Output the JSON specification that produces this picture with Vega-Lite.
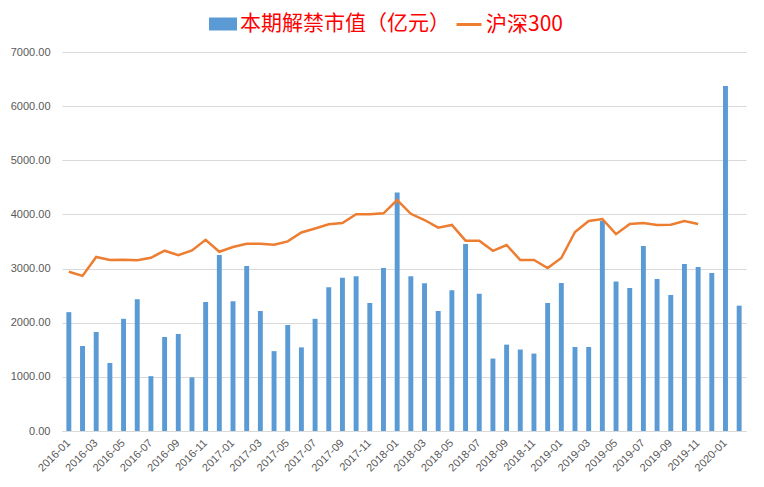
{
  "$schema": "https://vega.github.io/schema/vega-lite/v6.json",
  "autosize": "none",
  "width": 684,
  "height": 379,
  "padding": {"left": 62, "top": 52, "right": 18, "bottom": 56},
  "background": "white",
  "config": {
    "view": {"stroke": null},
    "axis": {"labelFont": "Liberation Sans", "labelFontSize": 11, "labelColor": "#595959", "ticks": false, "title": null}
  },
  "data": {
    "values": [
      {"month": "2016-01", "unlock": 2195, "hs300": 2940},
      {"month": "2016-02", "unlock": 1570, "hs300": 2865},
      {"month": "2016-03", "unlock": 1829, "hs300": 3214},
      {"month": "2016-04", "unlock": 1256, "hs300": 3158},
      {"month": "2016-05", "unlock": 2072, "hs300": 3162},
      {"month": "2016-06", "unlock": 2435, "hs300": 3155},
      {"month": "2016-07", "unlock": 1013, "hs300": 3200},
      {"month": "2016-08", "unlock": 1736, "hs300": 3330},
      {"month": "2016-09", "unlock": 1792, "hs300": 3248},
      {"month": "2016-10", "unlock": 990, "hs300": 3335},
      {"month": "2016-11", "unlock": 2383, "hs300": 3532},
      {"month": "2016-12", "unlock": 3251, "hs300": 3310},
      {"month": "2017-01", "unlock": 2398, "hs300": 3399},
      {"month": "2017-02", "unlock": 3048, "hs300": 3458},
      {"month": "2017-03", "unlock": 2216, "hs300": 3458},
      {"month": "2017-04", "unlock": 1475, "hs300": 3440},
      {"month": "2017-05", "unlock": 1958, "hs300": 3503},
      {"month": "2017-06", "unlock": 1545, "hs300": 3666},
      {"month": "2017-07", "unlock": 2072, "hs300": 3740},
      {"month": "2017-08", "unlock": 2657, "hs300": 3817},
      {"month": "2017-09", "unlock": 2830, "hs300": 3840},
      {"month": "2017-10", "unlock": 2860, "hs300": 4005},
      {"month": "2017-11", "unlock": 2364, "hs300": 4005},
      {"month": "2017-12", "unlock": 3011, "hs300": 4020},
      {"month": "2018-01", "unlock": 4405, "hs300": 4266},
      {"month": "2018-02", "unlock": 2860, "hs300": 4012},
      {"month": "2018-03", "unlock": 2730, "hs300": 3897},
      {"month": "2018-04", "unlock": 2216, "hs300": 3755},
      {"month": "2018-05", "unlock": 2600, "hs300": 3805},
      {"month": "2018-06", "unlock": 3454, "hs300": 3515},
      {"month": "2018-07", "unlock": 2533, "hs300": 3515},
      {"month": "2018-08", "unlock": 1338, "hs300": 3328},
      {"month": "2018-09", "unlock": 1595, "hs300": 3435},
      {"month": "2018-10", "unlock": 1505, "hs300": 3158},
      {"month": "2018-11", "unlock": 1430, "hs300": 3158},
      {"month": "2018-12", "unlock": 2364, "hs300": 3010},
      {"month": "2019-01", "unlock": 2734, "hs300": 3195},
      {"month": "2019-02", "unlock": 1551, "hs300": 3675},
      {"month": "2019-03", "unlock": 1551, "hs300": 3878},
      {"month": "2019-04", "unlock": 3885, "hs300": 3916},
      {"month": "2019-05", "unlock": 2760, "hs300": 3635},
      {"month": "2019-06", "unlock": 2641, "hs300": 3823},
      {"month": "2019-07", "unlock": 3417, "hs300": 3842},
      {"month": "2019-08", "unlock": 2808, "hs300": 3805},
      {"month": "2019-09", "unlock": 2512, "hs300": 3810},
      {"month": "2019-10", "unlock": 3085, "hs300": 3879},
      {"month": "2019-11", "unlock": 3029, "hs300": 3823},
      {"month": "2019-12", "unlock": 2918, "hs300": null},
      {"month": "2020-01", "unlock": 6372, "hs300": null},
      {"month": "2020-02", "unlock": 2315, "hs300": null}
    ]
  },
  "encoding": {
    "x": {
      "field": "month", "type": "ordinal", "sort": null,
      "scale": {"paddingInner": 0.64, "paddingOuter": 0.32},
      "axis": {
        "labelAngle": -45, "labelAlign": "right", "labelBaseline": "middle", "labelPadding": 10,
        "labelOverlap": false, "domainColor": "#D9D9D9", "grid": false,
        "values": ["2016-01","2016-03","2016-05","2016-07","2016-09","2016-11","2017-01","2017-03","2017-05","2017-07","2017-09","2017-11","2018-01","2018-03","2018-05","2018-07","2018-09","2018-11","2019-01","2019-03","2019-05","2019-07","2019-09","2019-11","2020-01"]
      }
    }
  },
  "layer": [
    {
      "mark": {"type": "bar"},
      "encoding": {
        "y": {
          "field": "unlock", "type": "quantitative",
          "scale": {"domain": [0, 7000], "nice": false},
          "axis": {"values": [0,1000,2000,3000,4000,5000,6000,7000], "format": ".2f", "domain": false, "gridColor": "#D9D9D9", "labelPadding": 12}
        },
        "color": {
          "datum": "本期解禁市值（亿元）",
          "type": "nominal",
          "scale": {"domain": ["本期解禁市值（亿元）", "沪深300"], "range": ["#5B9BD5", "#ED7D31"]},
          "legend": {
            "title": null, "orient": "none", "direction": "horizontal",
            "legendX": 147, "legendY": -42,
            "labelFont": "Noto Sans CJK SC", "labelFontSize": 21, "labelColor": "#FF0000", "labelLimit": 400,
            "labelOffset": 3, "columnPadding": 0, "symbolSize": 625,
            "encode": {
              "symbols": {
                "update": {
                  "shape": {"signal": "datum.value === '沪深300' ? 'stroke' : 'M-1,-0.4H1V0.4H-1Z'"},
                  "fill": {"signal": "datum.value === '沪深300' ? 'transparent' : '#5B9BD5'"},
                  "stroke": {"signal": "datum.value === '沪深300' ? '#ED7D31' : 'transparent'"},
                  "strokeWidth": {"value": 3},
                  "opacity": {"value": 1}
                }
              }
            }
          }
        }
      }
    },
    {
      "transform": [{"filter": "datum.hs300 != null"}],
      "mark": {"type": "line", "strokeWidth": 2.5},
      "encoding": {
        "y": {"field": "hs300", "type": "quantitative"},
        "color": {"datum": "沪深300", "type": "nominal"}
      }
    }
  ]
}
